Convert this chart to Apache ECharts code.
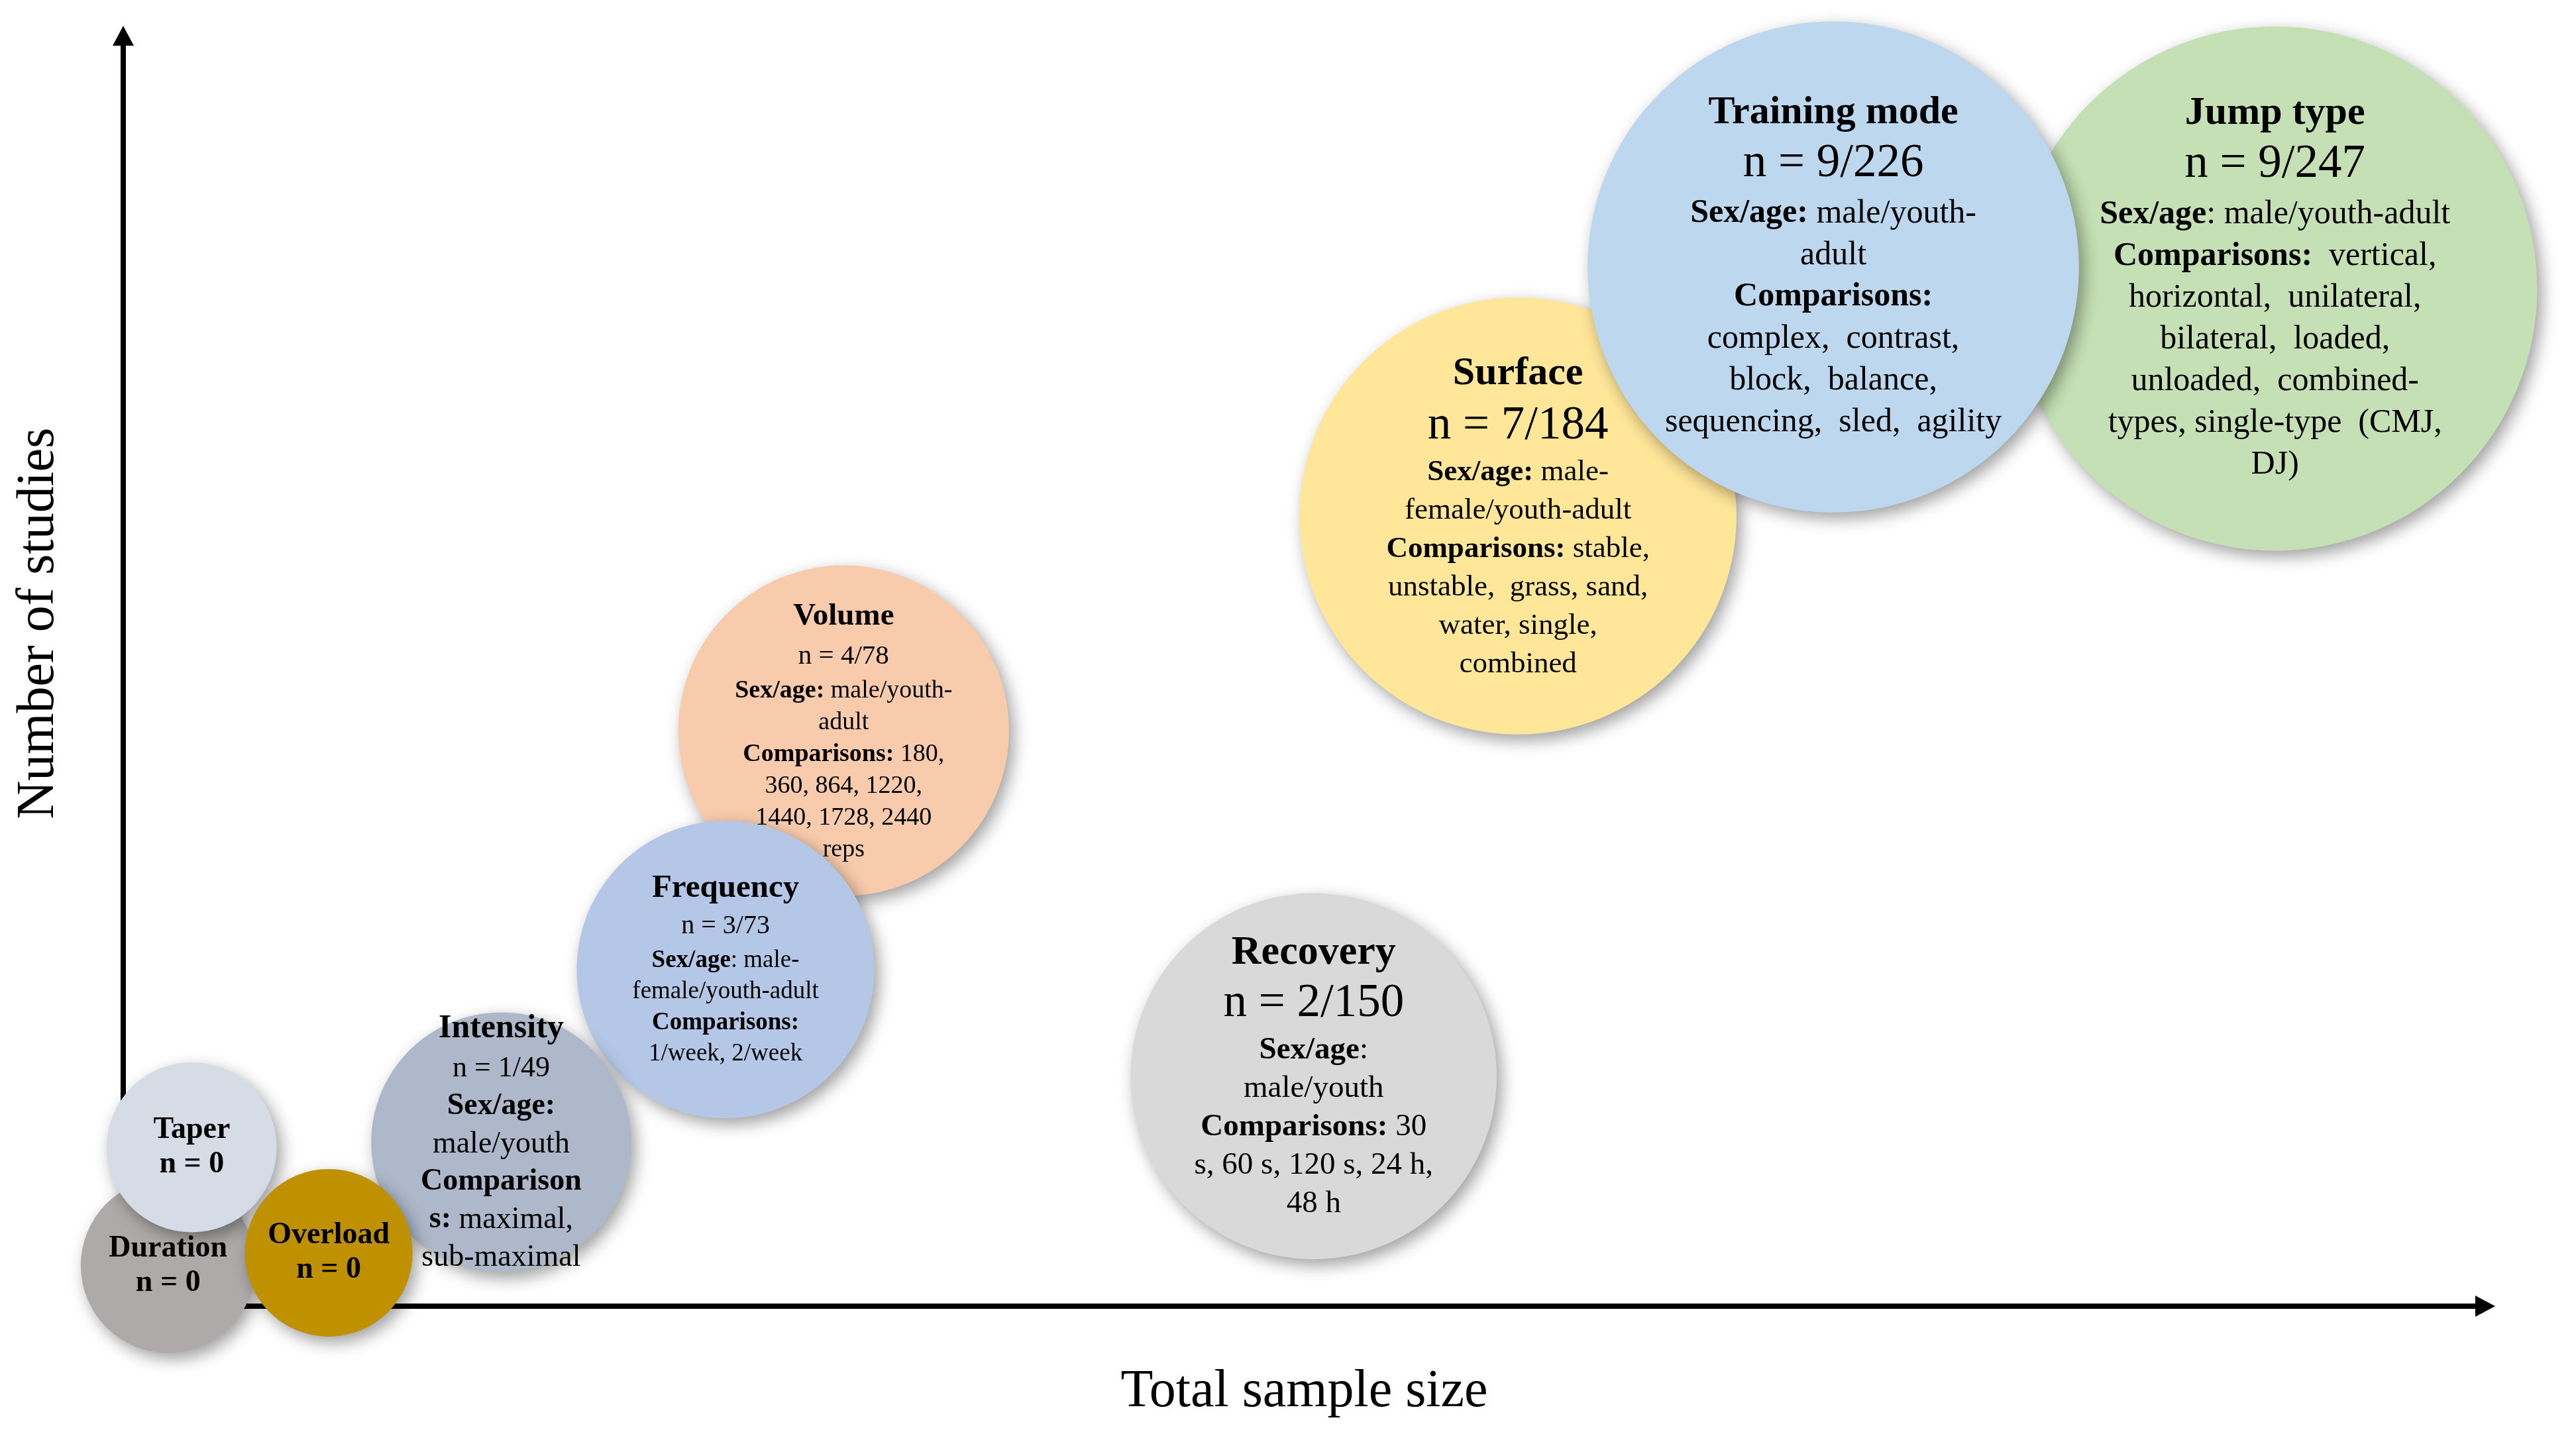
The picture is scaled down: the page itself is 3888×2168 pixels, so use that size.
<!DOCTYPE html>
<html>
<head>
<meta charset="utf-8">
<script src="https://cdn.jsdelivr.net/npm/echarts@6/dist/echarts.min.js"></script>
<style>
html,body{margin:0;padding:0;background:#ffffff;}
#chart{width:3888px;height:2168px;}
</style>
</head>
<body>
<div id="chart"></div>
<script>
// ---- data (listed in drawing order, later items drawn on top) ----
const categories = ['Jump type', 'Surface', 'Training mode', 'Recovery', 'Volume', 'Frequency', 'Intensity', 'Duration', 'Taper', 'Overload'];
const studies    = [9, 7, 9, 2, 4, 3, 1, 0, 0, 0];
const sampleSize = [247, 184, 226, 150, 78, 73, 49, 0, 0, 0];
// placement of each bubble on the (unscaled) conceptual axes, 0-100
const xPlacement = [91.1, 59.05, 72.4, 50.4, 30.5, 25.5, 16.0, 1.9, 2.9, 8.7];
const yPlacement = [80.1, 62.2, 81.8, 18.1, 45.3, 26.5, 12.9, 3.2, 12.5, 4.2];
// bubble diameter in x-axis units
const bubbleSize = [22.2, 18.5, 20.8, 15.5, 14.0, 12.6, 11.0, 7.4, 7.2, 7.1];
const detailLines = [
  ['{b|Sex/age}{r|: male/youth-adult}', '{b|Comparisons:}{r|  vertical,}', '{r|horizontal,  unilateral,}', '{r|bilateral,  loaded,}', '{r|unloaded,  combined-}', '{r|types, single-type  (CMJ,}', '{r|DJ)}'],
  ['{b|Sex/age:}{r| male-}', '{r|female/youth-adult}', '{b|Comparisons:}{r| stable,}', '{r|unstable,  grass, sand,}', '{r|water, single,}', '{r|combined}'],
  ['{b|Sex/age:}{r| male/youth-}', '{r|adult}', '{b|Comparisons:}', '{r|complex,  contrast,}', '{r|block,  balance,}', '{r|sequencing,  sled,  agility}'],
  ['{b|Sex/age}{r|:}', '{r|male/youth}', '{b|Comparisons:}{r| 30}', '{r|s, 60 s, 120 s, 24 h,}', '{r|48 h}'],
  ['{b|Sex/age:}{r| male/youth-}', '{r|adult}', '{b|Comparisons:}{r| 180,}', '{r|360, 864, 1220,}', '{r|1440, 1728, 2440}', '{r|reps}'],
  ['{b|Sex/age}{r|: male-}', '{r|female/youth-adult}', '{b|Comparisons:}', '{r|1/week, 2/week}'],
  ['{b|Sex/age:}', '{r|male/youth}', '{b|Comparison}', '{b|s:}{r| maximal,}', '{r|sub-maximal}'],
  [], [], []
];
const xAxisTitle = 'Total sample size';
const yAxisTitle = 'Number of studies';

// ---- styles ----
const FONT = '"Liberation Serif", "Times New Roman", serif';
const bubbleColors = ['#c5e0b4', '#ffe699', '#bdd7ee', '#d9d9d9', '#f8cbad', '#b4c7e7', '#adb9ca', '#aeaaaa', '#d6dce5', '#bf9000'];
// [titleSize, titleLH, nSize, nLH, bodySize, bodyLH]
const textPresets = [
  [60, 67, 71, 87, 50, 63],
  [60, 76, 71, 82, 45, 58],
  [60, 67, 71, 87, 50, 63],
  [62, 72, 71, 82, 47, 58],
  [47, 64, 41, 56, 38, 48],
  [49, 57, 40, 57, 37, 47],
  [50, 63, 44, 57, 46, 57],
  [46, 52, 46, 52, 46, 52],
  [46, 52, 46, 52, 46, 52],
  [46, 52, 46, 52, 46, 52]
];

const GRID = {left: 186, right: 137, top: 54, bottom: 196};
const chart = echarts.init(document.getElementById('chart'));
const pxPerXUnit = (chart.getWidth() - GRID.left - GRID.right) / 100;

function richFor(p) {
  const base = {fontFamily: FONT, color: '#000', align: 'center'};
  return {
    t: Object.assign({}, base, {fontWeight: 'bold', fontSize: p[0], lineHeight: p[1]}),
    z: Object.assign({}, base, {fontWeight: 'bold', fontSize: p[2], lineHeight: p[3]}),
    n: Object.assign({}, base, {fontSize: p[2], lineHeight: p[3]}),
    b: Object.assign({}, base, {fontWeight: 'bold', fontSize: p[4], lineHeight: p[5]}),
    r: Object.assign({}, base, {fontSize: p[4], lineHeight: p[5]})
  };
}

function labelText(i) {
  const lines = ['{t|' + categories[i] + '}'];
  if (studies[i] === 0) {
    lines.push('{z|n = 0}');
  } else {
    lines.push('{n|n = ' + studies[i] + '/' + sampleSize[i] + '}');
  }
  return lines.concat(detailLines[i]).join('\n');
}

const bubbleData = categories.map((c, i) => ({
  name: c,
  value: [xPlacement[i], yPlacement[i], bubbleSize[i]],
  itemStyle: {
    color: bubbleColors[i],
    opacity: 1,
    shadowBlur: 24,
    shadowOffsetX: 7,
    shadowOffsetY: 9,
    shadowColor: 'rgba(0,0,0,0.38)'
  }
}));

const labelData = categories.map((c, i) => ({
  name: c,
  value: [xPlacement[i], yPlacement[i], bubbleSize[i]],
  label: {
    show: true,
    position: 'inside',
    formatter: labelText(i),
    rich: richFor(textPresets[i])
  }
}));

const axisLineStyle = {color: '#000', width: 8};

chart.setOption({
  backgroundColor: '#ffffff',
  animation: false,
  grid: GRID,
  xAxis: {
    type: 'value', min: 0, max: 100,
    name: xAxisTitle, nameLocation: 'middle', nameGap: 90,
    nameTextStyle: {fontFamily: FONT, fontSize: 80, color: '#000'},
    axisLine: {show: true, onZero: false, lineStyle: axisLineStyle, symbol: ['none', 'triangle'], symbolSize: [32, 30]},
    axisTick: {show: false}, axisLabel: {show: false}, splitLine: {show: false}
  },
  yAxis: {
    type: 'value', min: 0, max: 100,
    name: yAxisTitle, nameLocation: 'middle', nameGap: 87,
    nameTextStyle: {fontFamily: FONT, fontSize: 80, color: '#000', padding: [0, 0, 0, 144]},
    axisLine: {show: true, onZero: false, lineStyle: axisLineStyle, symbol: ['none', 'triangle'], symbolSize: [32, 30]},
    axisTick: {show: false}, axisLabel: {show: false}, splitLine: {show: false}
  },
  series: [
    {
      type: 'scatter',
      z: 2,
      clip: false,
      silent: true,
      symbol: 'circle',
      symbolSize: (val) => val[2] * pxPerXUnit,
      itemStyle: {opacity: 1},
      data: bubbleData,
      label: {show: false}
    },
    {
      type: 'scatter',
      z: 5,
      clip: false,
      silent: true,
      symbol: 'circle',
      symbolSize: (val) => val[2] * pxPerXUnit,
      itemStyle: {color: 'rgba(0,0,0,0)', opacity: 1},
      data: labelData
    }
  ]
});
</script>
</body>
</html>
